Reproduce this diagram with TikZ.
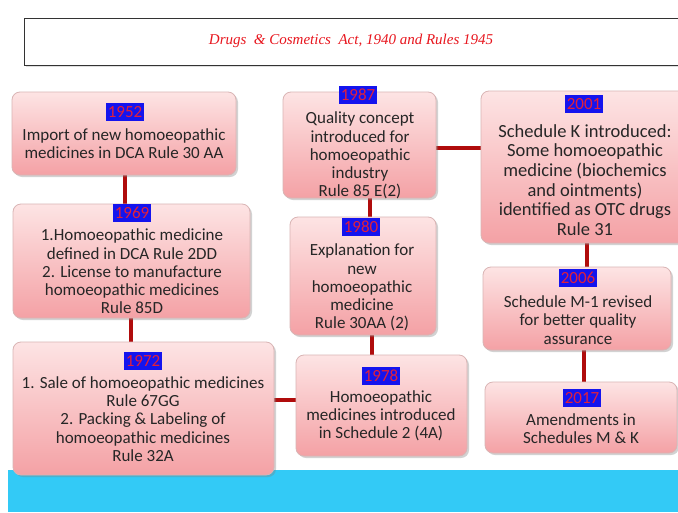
\documentclass[tikz,border=0pt]{standalone}
\usepackage{fontspec}
\setmainfont{Carlito}
\newfontfamily\titlefont{Liberation Serif}
\usetikzlibrary{shadows}
\definecolor{boxtop}{HTML}{FDE4E4}
\definecolor{boxbot}{HTML}{F4A1A5}
\definecolor{boxedge}{HTML}{D9B4B4}
\definecolor{linkred}{HTML}{B00C0C}
\definecolor{yearblue}{HTML}{1414EE}
\definecolor{yearred}{HTML}{E0203C}
\definecolor{band}{HTML}{33CAF6}
\definecolor{titlered}{HTML}{E8161E}
\definecolor{bodytext}{HTML}{262626}
\tikzset{
  box/.style={draw=boxedge, line width=0.8pt, rounded corners=8pt, top color=boxtop, bottom color=boxbot, drop shadow={opacity=0.35, shadow xshift=2pt, shadow yshift=-2pt}},
  year/.style={fill=yearblue, text=yearred, inner xsep=2pt, inner ysep=3pt, font=\fontsize{17}{17}\selectfont},
  body/.style={align=center, inner sep=0pt, font=\fontsize{17}{18.2}\selectfont, text=bodytext},
  link/.style={draw=linkred, line width=4pt}
}
\begin{document}
\begin{tikzpicture}[x=1pt,y=-1pt]
\useasboundingbox (0,0) rectangle (678,512);
\fill[white] (0,0) rectangle (678,512);
% title
\node[draw=black!80, line width=1.4pt, minimum width=660pt, minimum height=47pt, anchor=north west, inner sep=0pt, drop shadow={opacity=0.25, shadow xshift=1.5pt, shadow yshift=-1.5pt}, fill=white] (titlebox) at (24,18) {};
\node[text=titlered, font=\titlefont\itshape\fontsize{15}{15}\selectfont] (title) at (351,41) {Drugs \ \& Cosmetics \ Act, 1940 and Rules 1945};
% band
\fill[band] (8,470) rectangle (678,512);
% connectors (drawn first, boxes over them)
\coordinate (c52) at (125,170); \coordinate (c69a) at (125,210);
\draw[link] (c52) -- (c69a);
\coordinate (c69b) at (131,312); \coordinate (c72) at (131,348);
\draw[link] (c69b) -- (c72);
\coordinate (c87) at (370,192); \coordinate (c80a) at (370,222);
\draw[link] (c87) -- (c80a);
\coordinate (c80b) at (372,330); \coordinate (c78) at (372,360);
\draw[link] (c80b) -- (c78);
\coordinate (c72r) at (270,400); \coordinate (c78l) at (300,400);
\draw[link] (c72r) -- (c78l);
\coordinate (c87r) at (430,148); \coordinate (c01l) at (486,148);
\draw[link] (c87r) -- (c01l);
\coordinate (c01b) at (587,238); \coordinate (c06t) at (587,272);
\draw[link] (c01b) -- (c06t);
\coordinate (c06b) at (584,345); \coordinate (c17t) at (584,387);
\draw[link] (c06b) -- (c17t);
% boxes
\path[box] (12,92) rectangle (236,175);
\path[box] (13,204) rectangle (250,318);
\path[box] (13,342) rectangle (274,475);
\path[box] (283,92) rectangle (436,198);
\path[box] (290,217) rectangle (436,335);
\path[box] (296,355) rectangle (467,456);
\path[box] (481,91) rectangle (692,243);
\path[box] (483,267) rectangle (671,350);
\path[box] (485,382) rectangle (677,453);
% 1952
\node[year] (y52) at (125,112) {1952};
\node[body] (t52) at (124,144) {Import of new homoeopathic\\medicines in DCA Rule 30 AA};
% 1969
\node[year] (y69) at (132,213) {1969};
\node[body] (t69) at (132,271.5) {1.Homoeopathic medicine\\defined in DCA Rule 2DD\\2. License to manufacture\\homoeopathic medicines\\Rule 85D};
% 1972
\node[year] (y72) at (143,361) {1972};
\node[body] (t72) at (143,419) {1. Sale of homoeopathic medicines\\Rule 67GG\\2. Packing \& Labeling of\\homoeopathic medicines\\Rule 32A};
% 1987
\node[year] (y87) at (358,95) {1987};
\node[body] (t87) at (360,155.5) {Quality concept\\introduced for\\homoeopathic\\industry\\Rule 85 E(2)};
% 1980
\node[year] (y80) at (361,227) {1980};
\node[body] (t80) at (362,287.5) {Explanation for\\new\\homoeopathic\\medicine\\Rule 30AA (2)};
% 1978
\node[year] (y78) at (381,376) {1978};
\node[body] (t78) at (381,416) {Homoeopathic\\medicines introduced\\in Schedule 2 (4A)};
% 2001
\node[year] (y01) at (584,104) {2001};
\node[body, font=\fontsize{18.5}{19.6}\selectfont] (t01) at (585,180) {Schedule K introduced:\\Some homoeopathic\\medicine (biochemics\\and ointments)\\identified as OTC drugs\\Rule 31};
% 2006
\node[year] (y06) at (578,278) {2006};
\node[body] (t06) at (578,320) {Schedule M-1 revised\\for better quality\\assurance};
% 2017
\node[year] (y17) at (582,398) {2017};
\node[body] (t17) at (581,428.5) {Amendments in\\Schedules M \& K};
\end{tikzpicture}
\end{document}
